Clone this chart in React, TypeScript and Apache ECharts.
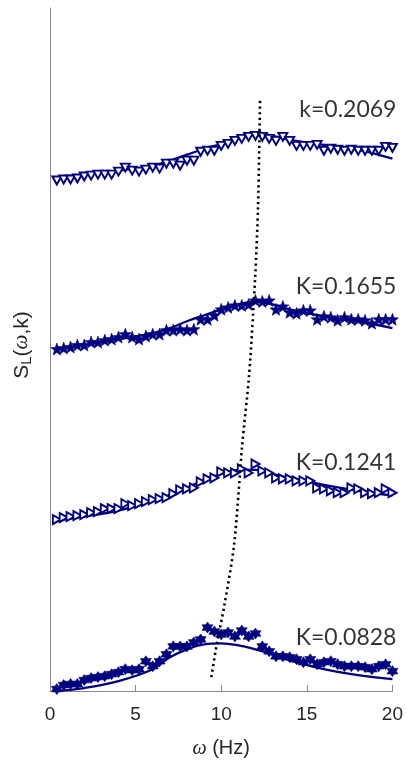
import React, { useEffect, useRef } from "react";
import * as echarts from "echarts";

// Frequency grid (Hz) shared by the measured spectra
const omega = [
  0.4, 0.8, 1.2, 1.6, 2.0, 2.4, 2.8, 3.2, 3.6, 4.0,
  4.4, 4.8, 5.2, 5.6, 6.0, 6.4, 6.8, 7.2, 7.6, 8.0,
  8.4, 8.8, 9.2, 9.6, 10.0, 10.4, 10.8, 11.2, 11.6, 12.0,
  12.4, 12.8, 13.2, 13.6, 14.0, 14.4, 14.8, 15.2, 15.6, 16.0,
  16.4, 16.8, 17.2, 17.6, 18.0, 18.4, 18.8, 19.2, 19.6, 20.0,
];

// Measured spectra, vertically offset for each wavenumber
const sK2069 = [
  5.15, 5.16, 5.16, 5.17, 5.19, 5.2, 5.21, 5.21, 5.21, 5.24,
  5.28, 5.25, 5.24, 5.26, 5.28, 5.27, 5.32, 5.32, 5.3, 5.35,
  5.35, 5.44, 5.45, 5.45, 5.5, 5.52, 5.55, 5.57, 5.59, 5.6,
  5.59, 5.57, 5.55, 5.59, 5.55, 5.5, 5.5, 5.5, 5.51, 5.45,
  5.47, 5.46, 5.45, 5.46, 5.45, 5.45, 5.45, 5.45, 5.49, 5.48,
];
const sK1655 = [
  3.45, 3.46, 3.47, 3.49, 3.49, 3.52, 3.52, 3.54, 3.55, 3.57,
  3.6, 3.57, 3.55, 3.58, 3.6, 3.6, 3.64, 3.64, 3.65, 3.64,
  3.65, 3.75, 3.75, 3.79, 3.85, 3.87, 3.89, 3.89, 3.9, 3.94,
  3.93, 3.94, 3.85, 3.88, 3.82, 3.81, 3.84, 3.84, 3.75, 3.78,
  3.77, 3.74, 3.77, 3.75, 3.75, 3.74, 3.71, 3.75, 3.75, 3.75,
];
const sK1241 = [
  1.73, 1.75, 1.76, 1.77, 1.78, 1.8, 1.81, 1.84, 1.84, 1.84,
  1.89, 1.87, 1.89, 1.91, 1.93, 1.94, 1.95, 1.99, 2.03, 2.04,
  2.05, 2.11, 2.14, 2.15, 2.21, 2.2, 2.2, 2.24, 2.2, 2.29,
  2.22, 2.2, 2.15, 2.14, 2.14, 2.12, 2.12, 2.12, 2.05, 2.04,
  2.02, 2.0, 2.0, 2.05, 2.04, 2.0, 1.99, 2.0, 2.04, 2.0,
];
const sK0828 = [
  0.02, 0.06, 0.07, 0.07, 0.11, 0.13, 0.14, 0.15, 0.17, 0.19,
  0.22, 0.21, 0.22, 0.3, 0.25, 0.3, 0.37, 0.45, 0.45, 0.45,
  0.49, 0.52, 0.64, 0.6, 0.57, 0.59, 0.55, 0.61, 0.55, 0.58,
  0.45, 0.4, 0.35, 0.35, 0.34, 0.32, 0.29, 0.32, 0.27, 0.29,
  0.3, 0.27, 0.25, 0.25, 0.25, 0.24, 0.22, 0.25, 0.27, 0.2,
];

// Model fits
const omegaFit = [0.3, 2, 4, 6, 7, 8, 9, 10, 11, 12, 13, 14, 16, 18, 20];
const fitK2069 = [5.18, 5.21, 5.25, 5.3, 5.35, 5.41, 5.47, 5.52, 5.58, 5.63, 5.6, 5.56, 5.51, 5.46, 5.37];
const fitK1655 = [3.44, 3.49, 3.55, 3.61, 3.66, 3.73, 3.79, 3.85, 3.9, 3.93, 3.9, 3.85, 3.78, 3.73, 3.66];
const fitK1241 = [1.72, 1.76, 1.82, 1.92, 1.98, 2.05, 2.13, 2.19, 2.23, 2.23, 2.19, 2.15, 2.08, 2.02, 1.97];
const fitK0828 = [0.0, 0.03, 0.1, 0.22, 0.34, 0.42, 0.47, 0.48, 0.46, 0.42, 0.37, 0.31, 0.22, 0.16, 0.12];

// Peak-frequency trend
const peakOmega = [9.42, 9.77, 10.17, 10.76, 11.22, 11.63, 11.98, 12.15, 12.27];
const peakS = [0.14, 0.5, 0.85, 1.49, 2.47, 3.19, 4.17, 4.89, 5.97];

const kLabels = ["k=0.2069", "K=0.1655", "K=0.1241", "K=0.0828"];
const kLabelS = [5.88, 4.1, 2.32, 0.55];

const NAVY = "#000080";

function starPath(points: number, inner: number): string {
  const parts: string[] = [];
  for (let i = 0; i < points * 2; i++) {
    const r = i % 2 === 0 ? 1 : inner;
    const a = -Math.PI / 2 + (i * Math.PI) / points;
    const x = (r * Math.cos(a)).toFixed(3);
    const y = (r * Math.sin(a)).toFixed(3);
    parts.push((i === 0 ? "M" : "L") + x + " " + y);
  }
  return "path://" + parts.join(" ") + " Z";
}

const pentagram = starPath(5, 0.42);
const hexagram = starPath(6, 0.6);

const pairs = (xs: number[], ys: number[]) => xs.map((x, i) => [x, ys[i]]);

export default function App() {
  const ref = useRef<HTMLDivElement>(null);

  useEffect(() => {
    if (!ref.current) return;
    const chart = echarts.init(ref.current, undefined, { renderer: "svg" });

    const hollow = {
      color: "#ffffff",
      borderColor: NAVY,
      borderWidth: 1.9,
      opacity: 1,
    };
    const filled = { color: NAVY, borderColor: NAVY, borderWidth: 0.6, opacity: 1 };
    const fitLine = (data: number[][]) => ({
      type: "line",
      data,
      smooth: 0.4,
      symbol: "none",
      lineStyle: { color: NAVY, width: 2.3 },
      z: 3,
    });

    chart.setOption({
      animation: false,
      grid: { left: 50, right: 12, top: 8, bottom: 65 },
      xAxis: {
        type: "value",
        min: 0,
        max: 20,
        interval: 5,
        name: "{i|ω} (Hz)",
        nameLocation: "middle",
        nameGap: 46,
        nameTextStyle: {
          fontFamily: "Liberation Sans",
          fontSize: 20,
          color: "#262626",
          rich: {
            i: { fontStyle: "italic", fontFamily: "Liberation Serif", fontSize: 20, color: "#262626" },
          },
        },
        axisLine: { show: true, lineStyle: { color: "#8a8a8a", width: 1 } },
        axisTick: { show: true, inside: true, length: 6, lineStyle: { color: "#8a8a8a" } },
        axisLabel: {
          fontFamily: "Liberation Sans",
          fontSize: 19,
          color: "#262626",
          margin: 13,
        },
        splitLine: { show: false },
      },
      yAxis: {
        type: "value",
        min: 0,
        max: 6.89,
        axisLine: { show: true, lineStyle: { color: "#8a8a8a", width: 1 } },
        axisTick: { show: false },
        axisLabel: { show: false },
        splitLine: { show: false },
      },
      graphic: [
        {
          type: "text",
          x: 20,
          y: 345,
          rotation: Math.PI / 2,
          style: {
            text: "{s|S}{sub|L}{s|(}{i|ω}{s|,k)}",
            align: "center",
            verticalAlign: "middle",
            rich: {
              s: { fontFamily: "Liberation Sans", fontSize: 21, fill: "#262626" },
              sub: { fontFamily: "Liberation Sans", fontSize: 15, fill: "#262626", verticalAlign: "bottom", padding: [10, 0, 0, 0] },
              i: { fontFamily: "Liberation Serif", fontStyle: "italic", fontSize: 21, fill: "#262626" },
            },
          },
        },
      ],
      series: [
        {
          type: "scatter",
          data: pairs(omega, sK2069),
          symbol: "triangle",
          symbolRotate: 180,
          symbolSize: [9, 8],
          itemStyle: hollow,
          z: 4,
        },
        fitLine(pairs(omegaFit, fitK2069)),
        {
          type: "scatter",
          data: pairs(omega, sK1655),
          symbol: pentagram,
          symbolSize: 12,
          itemStyle: filled,
          z: 4,
        },
        fitLine(pairs(omegaFit, fitK1655)),
        {
          type: "scatter",
          data: pairs(omega, sK1241),
          symbol: "triangle",
          symbolRotate: -90,
          symbolSize: [9, 8],
          itemStyle: hollow,
          z: 4,
        },
        fitLine(pairs(omegaFit, fitK1241)),
        {
          type: "scatter",
          data: pairs(omega, sK0828),
          symbol: hexagram,
          symbolSize: 11,
          itemStyle: filled,
          z: 4,
        },
        fitLine(pairs(omegaFit, fitK0828)),
        {
          type: "line",
          data: pairs(peakOmega, peakS),
          smooth: 0.3,
          symbol: "none",
          lineStyle: { color: "#000", width: 2.6, type: [2.2, 3.4] },
          z: 5,
        },
        {
          type: "scatter",
          data: kLabelS.map((s, i) => [20, s, kLabels[i]]),
          symbolSize: 0,
          silent: true,
          label: {
            show: true,
            position: "left",
            distance: -4,
            formatter: (p: any) => p.data[2],
            fontFamily: "Lato",
            fontSize: 23,
            color: "#000",
          },
          z: 6,
        },
      ],
    });

    return () => chart.dispose();
  }, []);

  return (
    <div
      ref={ref}
      style={{ position: "fixed", left: 0, top: 0, width: 406, height: 762 }}
    />
  );
}
